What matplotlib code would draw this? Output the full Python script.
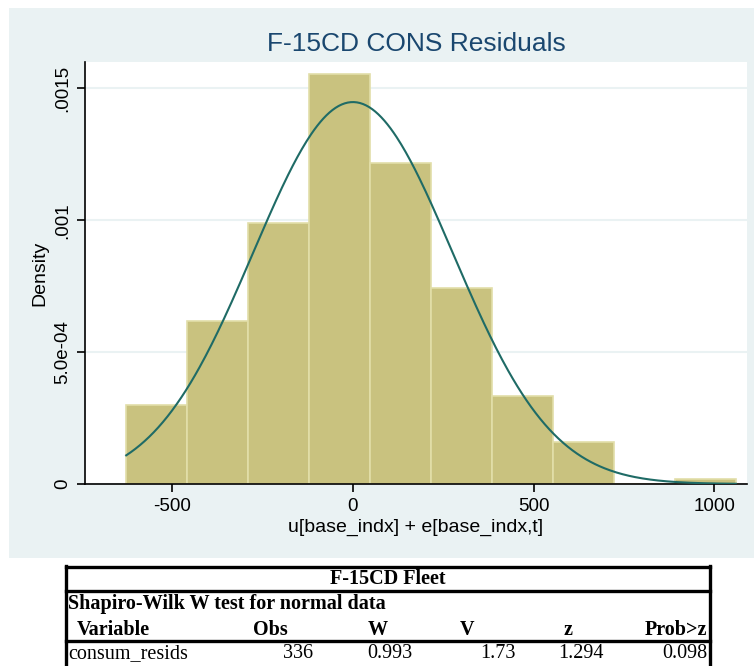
import numpy as np
import matplotlib
matplotlib.use('Agg')
import matplotlib.pyplot as plt
from matplotlib.patches import Rectangle

plt.rcParams['axes.unicode_minus'] = False

# histogram of residuals (bin edges + counts)
bin_edges = [-627, -458.4, -289.8, -121.2, 47.4, 216.0, 384.6, 553.2, 721.8, 890.4, 1059.0]
counts = [17, 35, 56, 88, 69, 42, 19, 9, 0, 1]
mu, sd = 0.0, 275.5  # normal overlay

yticks = [0, 0.0005, 0.001, 0.0015]
ytick_labels = ['0', '5.0e-04', '.001', '.0015']
xticks = [-500, 0, 500, 1000]

# Shapiro-Wilk table
tab_title = 'F-15CD Fleet'
tab_sub = 'Shapiro-Wilk W test for normal data'
tab_head = ['Variable', 'Obs', 'W', 'V', 'z', 'Prob>z']
tab_row = ['consum_resids', '336', '0.993', '1.73', '1.294', '0.098']

W, H = 754, 666
fig = plt.figure(figsize=(W/100, H/100), dpi=100)

# overlay axis in pixel coords for background panel and table
bg = fig.add_axes([0, 0, 1, 1], zorder=0)
bg.set_xlim(0, W)
bg.set_ylim(H, 0)
bg.axis('off')
bg.add_patch(Rectangle((9, 8), W-9, 550, color='#EAF2F3', lw=0))

lw_t = 2.4
bg.plot([66, 710], [567, 567], color='black', lw=lw_t)
bg.plot([66, 710], [591, 591], color='black', lw=lw_t)
bg.plot([66, 710], [641, 641], color='black', lw=lw_t)
bg.plot([66, 66], [566, H], color='black', lw=lw_t)
bg.plot([710, 710], [566, H], color='black', lw=lw_t)

serif = 'Liberation Serif'
fs_t = 14.5
bg.text(388, 579, tab_title, ha='center', va='center', fontsize=fs_t, fontweight='bold', family=serif)
bg.text(68, 604, tab_sub, ha='left', va='center', fontsize=fs_t, fontweight='bold', family=serif)
head_x = [113, 270, 378, 467, 568, 707]
head_ha = ['center', 'center', 'center', 'center', 'center', 'right']
for t, x, ha in zip(tab_head, head_x, head_ha):
    bg.text(x, 630, t, ha=ha, va='center', fontsize=fs_t, fontweight='bold', family=serif)
row_x = [68, 313, 412, 516, 604, 707]
for i, (t, x) in enumerate(zip(tab_row, row_x)):
    bg.text(x, 654, t, ha='left' if i == 0 else 'right', va='center', fontsize=fs_t, family=serif)

# main histogram
ax = fig.add_axes([85/W, 1-484/H, (747-85)/W, (484-62)/H], zorder=1)
ax.set_facecolor('white')
ax.hist(bin_edges[:-1], bins=bin_edges, weights=counts, density=True,
        color='#C9C27F', edgecolor='#E2DEA9', linewidth=1.2, zorder=2)
xs = np.linspace(bin_edges[0], bin_edges[-1], 400)
ax.plot(xs, np.exp(-0.5*((xs-mu)/sd)**2)/(sd*np.sqrt(2*np.pi)), color='#1F6B66', lw=1.5, zorder=3)

ax.set_xlim(-741, 1090)
ax.set_ylim(0, 0.0016)
ax.set_yticks(yticks)
ax.set_yticklabels(ytick_labels, rotation=90, va='center')
ax.set_xticks(xticks)
ax.yaxis.grid(True, color='#EAF2F3', lw=1.5)
ax.set_axisbelow(True)
for s in ['top', 'right']:
    ax.spines[s].set_visible(False)
for s in ['left', 'bottom']:
    ax.spines[s].set_linewidth(1.2)
ax.tick_params(length=6, width=1.2, labelsize=13.5, pad=4)
for lab in ax.get_xticklabels() + ax.get_yticklabels():
    lab.set_family('Liberation Sans')
ax.set_xlabel('u[base_indx] + e[base_indx,t]', fontsize=14, family='Liberation Sans', labelpad=2.5)
ax.set_ylabel('Density', fontsize=14, family='Liberation Sans', labelpad=4)
fig.text(416/W, 1-44/H, 'F-15CD CONS Residuals', ha='center', va='center',
         fontsize=19, color='#1A476F', family='Liberation Sans')

fig.savefig('out.png', dpi=100)
